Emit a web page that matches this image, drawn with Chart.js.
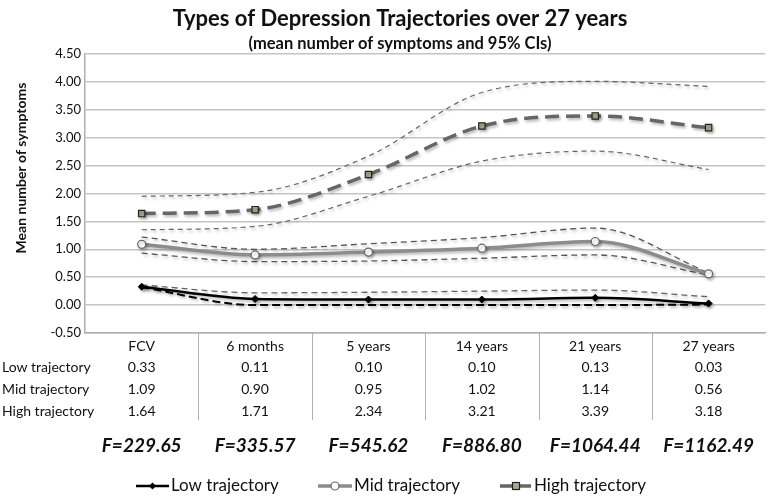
<!DOCTYPE html>
<html>
<head>
<meta charset="utf-8">
<script src="https://cdn.jsdelivr.net/npm/chart.js@4"></script>
<style>
  html, body { margin: 0; padding: 0; background: #fff; }
  #wrap { width: 771px; height: 496px; position: relative; }
</style>
</head>
<body>
<div id="wrap"><canvas id="chart"></canvas></div>
<script>
const categories = ['FCV', '6 months', '5 years', '14 years', '21 years', '27 years'];
const lowMean = [0.33, 0.11, 0.10, 0.10, 0.13, 0.03];
const midMean = [1.09, 0.90, 0.95, 1.02, 1.14, 0.56];
const highMean = [1.64, 1.71, 2.34, 3.21, 3.39, 3.18];
const lowUpper = [0.36, 0.22, 0.23, 0.25, 0.27, 0.15];
const lowLower = [0.32, 0.00, 0.00, 0.00, 0.00, 0.01];
const midUpper = [1.22, 1.00, 1.10, 1.21, 1.38, 0.58];
const midLower = [0.93, 0.78, 0.79, 0.84, 0.90, 0.54];
const highUpper = [1.95, 2.02, 2.67, 3.81, 4.01, 3.92];
const highLower = [1.35, 1.41, 1.95, 2.58, 2.76, 2.43];
const fValues = ['F=229.65', 'F=335.57', 'F=545.62', 'F=886.80', 'F=1064.44', 'F=1162.49'];
const seriesNames = ['Low trajectory', 'Mid trajectory', 'High trajectory'];

const FONT = 'Lato, "Open Sans", sans-serif';

// excel-ish drop shadow on the lines
const shadowPlugin = {
    id: 'shadow',
    beforeDatasetDraw(chart) {
        const ctx = chart.ctx;
        ctx.save();
        ctx.shadowColor = 'rgba(0,0,0,0.28)';
        ctx.shadowBlur = 3;
        ctx.shadowOffsetX = 1.5;
        ctx.shadowOffsetY = 2;
    },
    afterDatasetDraw(chart) {
        chart.ctx.restore();
    }
};

// title, y title, data table, F row and legend
const extrasPlugin = {
    id: 'extras',
    afterDraw(chart) {
        const ctx = chart.ctx;
        const x = chart.scales.x;
        const area = chart.chartArea;
        ctx.save();
        ctx.fillStyle = '#111';
        ctx.textAlign = 'center';
        ctx.textBaseline = 'middle';
        ctx.font = 'bold 22px ' + FONT;
        ctx.fillText('Types of Depression Trajectories over 27 years', 400, 19);
        ctx.font = 'bold 16.5px ' + FONT;
        ctx.fillText('(mean number of symptoms and 95% CIs)', 400, 44);

        ctx.save();
        ctx.translate(21, 168);
        ctx.rotate(-Math.PI / 2);
        ctx.font = 'bold 14px ' + FONT;
        ctx.fillText('Mean number of symptoms', 0, 0);
        ctx.restore();

        // column separators below the axis
        ctx.strokeStyle = '#b0b0b0';
        ctx.lineWidth = 1;
        for (let i = 1; i < categories.length; i++) {
            const px = Math.round((x.getPixelForValue(i - 1) + x.getPixelForValue(i)) / 2) + 0.5;
            ctx.beginPath();
            ctx.moveTo(px, area.bottom);
            ctx.lineTo(px, 420);
            ctx.stroke();
        }

        const rows = [lowMean, midMean, highMean];
        const rowY = [367, 389, 411];
        ctx.font = '14px ' + FONT;
        rows.forEach((vals, r) => {
            ctx.textAlign = 'left';
            ctx.fillText(seriesNames[r], 2, rowY[r]);
            ctx.textAlign = 'center';
            vals.forEach((v, i) => ctx.fillText(v.toFixed(2), x.getPixelForValue(i), rowY[r]));
        });

        ctx.font = 'italic bold 19px ' + FONT;
        fValues.forEach((f, i) => ctx.fillText(f, x.getPixelForValue(i), 446));

        // legend
        const ly = 486;
        ctx.font = '17px ' + FONT;
        ctx.textAlign = 'left';
        const items = [
            { x0: 136, x1: 169, color: '#000', width: 2.5, dash: [], style: 'diamond' },
            { x0: 318, x1: 352, color: '#8c8c8c', width: 3.5, dash: [], style: 'circle' },
            { x0: 500, x1: 532, color: '#666', width: 3.5, dash: [12, 7], style: 'rect' }
        ];
        items.forEach((it, i) => {
            ctx.save();
            ctx.strokeStyle = it.color;
            ctx.lineWidth = it.width;
            ctx.setLineDash(it.dash);
            ctx.beginPath();
            ctx.moveTo(it.x0, ly);
            ctx.lineTo(it.x1, ly);
            ctx.stroke();
            ctx.setLineDash([]);
            const cx = (it.x0 + it.x1) / 2;
            if (it.style === 'diamond') {
                ctx.fillStyle = '#000';
                ctx.beginPath();
                ctx.moveTo(cx, ly - 3.5); ctx.lineTo(cx + 3.5, ly); ctx.lineTo(cx, ly + 3.5); ctx.lineTo(cx - 3.5, ly);
                ctx.closePath(); ctx.fill();
            } else if (it.style === 'circle') {
                ctx.fillStyle = '#fff';
                ctx.strokeStyle = '#666';
                ctx.lineWidth = 1.2;
                ctx.beginPath(); ctx.arc(cx, ly, 4, 0, Math.PI * 2); ctx.fill(); ctx.stroke();
            } else {
                ctx.fillStyle = '#a9a98a';
                ctx.strokeStyle = '#222';
                ctx.lineWidth = 1.2;
                ctx.fillRect(cx - 3.5, ly - 3.5, 7, 7);
                ctx.strokeRect(cx - 3.5, ly - 3.5, 7, 7);
            }
            ctx.restore();
            ctx.fillStyle = '#111';
            ctx.fillText(seriesNames[i], it.x1 + 2, ly);
        });
        ctx.restore();
    }
};

function ciLine(data, color, width, dash) {
    return {
        data, borderColor: color, borderWidth: width, borderDash: dash,
        pointRadius: 0, fill: false, cubicInterpolationMode: 'monotone', order: 5
    };
}

new Chart(document.getElementById('chart'), {
    type: 'line',
    data: {
        labels: categories,
        datasets: [
            {
                label: seriesNames[2], data: highMean, borderColor: '#666', borderWidth: 3.5,
                borderDash: [14, 7], cubicInterpolationMode: 'monotone', order: 1,
                pointStyle: 'rect', pointRadius: 4.5, pointBackgroundColor: '#a9a98a',
                pointBorderColor: '#222', pointBorderWidth: 1.2
            },
            {
                label: seriesNames[1], data: midMean, borderColor: '#8c8c8c', borderWidth: 3.5,
                cubicInterpolationMode: 'monotone', order: 1,
                pointStyle: 'circle', pointRadius: 4, pointBackgroundColor: '#fff',
                pointBorderColor: '#666', pointBorderWidth: 1.2
            },
            {
                label: seriesNames[0], data: lowMean, borderColor: '#000', borderWidth: 2.5,
                cubicInterpolationMode: 'monotone', order: 1,
                pointStyle: 'rectRot', pointRadius: 3.5, pointBackgroundColor: '#000',
                pointBorderColor: '#000', pointBorderWidth: 1
            },
            ciLine(highUpper, '#666', 1.2, [5, 4]),
            ciLine(highLower, '#666', 1.2, [5, 4]),
            ciLine(midUpper, '#555', 1.3, [6, 4]),
            ciLine(midLower, '#555', 1.3, [6, 4]),
            ciLine(lowUpper, '#666', 1.3, [6, 4]),
            ciLine(lowLower, '#000', 2, [8, 4])
        ]
    },
    options: {
        responsive: true,
        maintainAspectRatio: false,
        animation: false,
        layout: { padding: { top: 54, right: 3, left: 0, bottom: 0 } },
        plugins: {
            legend: { display: false },
            tooltip: { enabled: false }
        },
        scales: {
            x: {
                offset: true,
                grid: { display: false },
                border: { color: '#b0b0b0', width: 1.5 },
                ticks: { color: '#111', font: { family: FONT, size: 14 }, padding: -3, maxRotation: 0 },
                afterFit: s => { s.height = 163; }
            },
            y: {
                min: -0.5, max: 4.5,
                grid: { color: '#c4c4c4', lineWidth: 1.5, drawTicks: false },
                border: { color: '#b0b0b0', width: 1.5 },
                ticks: {
                    stepSize: 0.5, color: '#111', padding: 4,
                    font: { family: FONT, size: 13 },
                    callback: v => v.toFixed(2)
                },
                afterFit: s => { s.width = 85; }
            }
        }
    },
    plugins: [shadowPlugin, extrasPlugin]
});
</script>
</body>
</html>
